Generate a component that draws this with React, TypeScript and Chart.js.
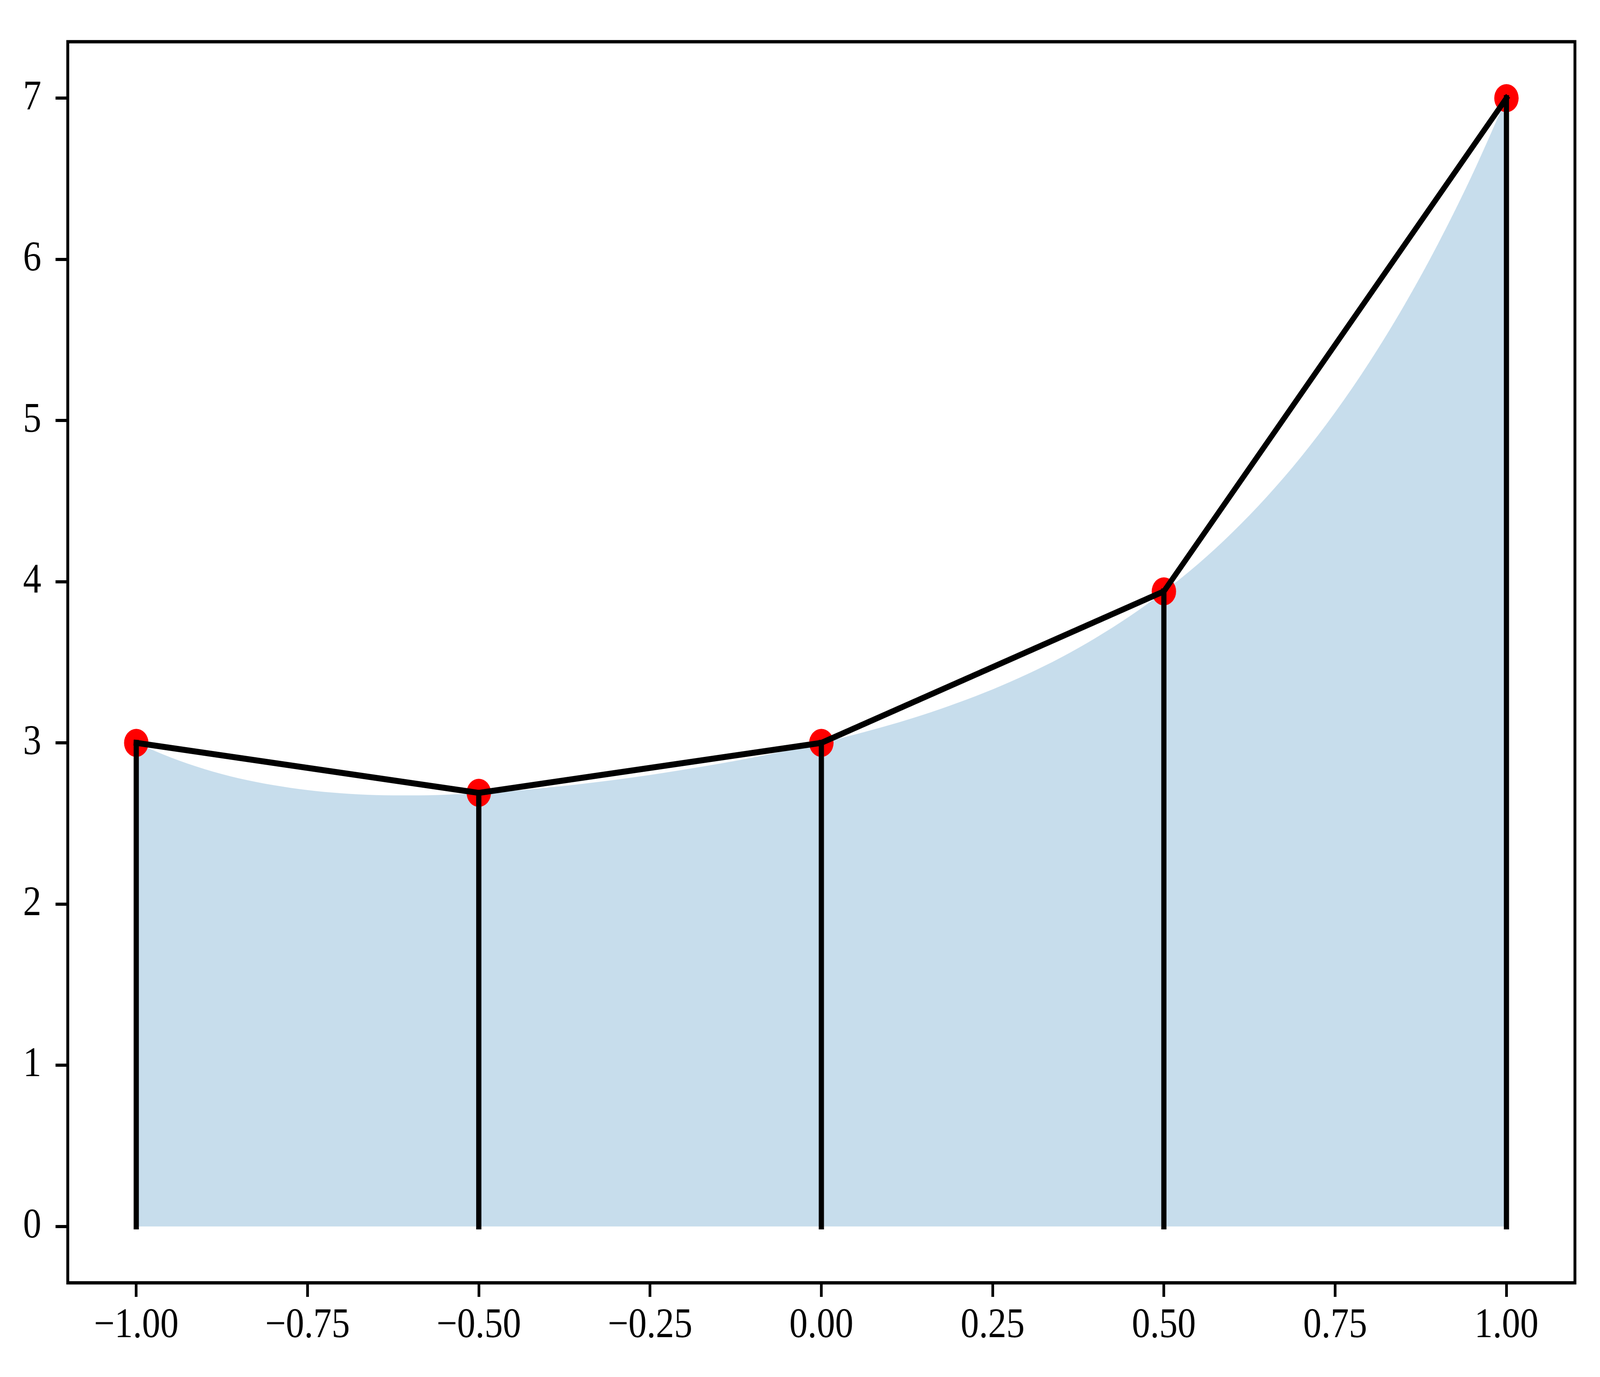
import React, { useEffect, useRef } from "react";
import { Chart, registerables } from "chart.js";

Chart.register(...registerables);

// Sample nodes (red points) and connecting polyline
const nodeX = [-1, -0.5, 0, 0.5, 1];
const nodeY = [3, 2.69, 3, 3.94, 7];

// Smooth curve under which the area is shaded
const curveX = [
  -1, -0.95, -0.9, -0.85, -0.8, -0.75, -0.7, -0.65, -0.6, -0.55, -0.5,
  -0.45, -0.4, -0.35, -0.3, -0.25, -0.2, -0.15, -0.1, -0.05, 0,
  0.05, 0.1, 0.15, 0.2, 0.25, 0.3, 0.35, 0.4, 0.45, 0.5,
  0.55, 0.6, 0.65, 0.7, 0.75, 0.8, 0.85, 0.9, 0.95, 1,
];
const curveY = [
  3.0, 2.91, 2.837, 2.78, 2.738, 2.707, 2.687, 2.676, 2.674, 2.678, 2.688,
  2.702, 2.722, 2.745, 2.771, 2.801, 2.834, 2.87, 2.909, 2.952, 3.0,
  3.053, 3.111, 3.176, 3.25, 3.332, 3.425, 3.53, 3.65, 3.785, 3.938,
  4.11, 4.306, 4.526, 4.773, 5.051, 5.362, 5.709, 6.095, 6.524, 7.0,
];

const xTicks = [-1, -0.75, -0.5, -0.25, 0, 0.25, 0.5, 0.75, 1];
const xTickLabels = ["\u22121.00", "\u22120.75", "\u22120.50", "\u22120.25", "0.00", "0.25", "0.50", "0.75", "1.00"];
const yTicks = [0, 1, 2, 3, 4, 5, 6, 7];
const yTickLabels = ["0", "1", "2", "3", "4", "5", "6", "7"];

const X_MIN = -1.1;
const X_MAX = 1.1;
const Y_MIN = -0.35;
const Y_MAX = 7.35;

const REF_W = 4724;
const REF_H = 3524;

export default function App() {
  const ref = useRef<HTMLCanvasElement | null>(null);
  const W = typeof window !== "undefined" ? window.innerWidth : REF_W;
  const H = typeof window !== "undefined" ? window.innerHeight : REF_H;
  const sx = W / REF_W;
  const sy = H / REF_H;

  useEffect(() => {
    if (!ref.current) return;
    const lw = 15.4;
    const FONT = { family: "'Liberation Serif', 'DejaVu Serif', serif", size: 108 };

    const frame = {
      id: "frame",
      afterDatasetsDraw(chart: any) {
        const { ctx, chartArea } = chart;
        ctx.save();
        ctx.strokeStyle = "#000";
        ctx.lineWidth = 8.5;
        ctx.lineJoin = "miter";
        ctx.strokeRect(chartArea.left, chartArea.top, chartArea.right - chartArea.left, chartArea.bottom - chartArea.top);
        ctx.restore();
      },
    };

    const datasets: any[] = [];
    datasets.push({
      type: "line",
      data: curveX.map((x, i) => ({ x, y: curveY[i] })),
      fill: "origin",
      backgroundColor: "rgba(31,119,180,0.25)",
      borderColor: "rgba(0,0,0,0)",
      borderWidth: 0,
      pointRadius: 0,
      cubicInterpolationMode: "monotone",
      order: 10,
    });
    datasets.push({
      type: "scatter",
      data: nodeX.map((x, i) => ({ x, y: nodeY[i] })),
      pointRadius: 36,
      pointHoverRadius: 36,
      backgroundColor: "#ff0000",
      borderColor: "#ff0000",
      borderWidth: 0,
      showLine: false,
      order: 9,
    });
    nodeX.forEach((x, i) => {
      datasets.push({
        type: "line",
        data: [
          { x, y: 0 },
          { x, y: nodeY[i] },
        ],
        borderColor: "#000",
        borderWidth: lw,
        borderCapStyle: "square",
        pointRadius: 0,
        fill: false,
        tension: 0,
        order: 5,
      });
    });
    datasets.push({
      type: "line",
      data: nodeX.map((x, i) => ({ x, y: nodeY[i] })),
      borderColor: "#000",
      borderWidth: lw,
      borderCapStyle: "square",
      borderJoinStyle: "round",
      pointRadius: 0,
      fill: false,
      tension: 0,
      order: 1,
    });

    const gridOpts = {
      drawOnChartArea: false,
      drawTicks: true,
      tickLength: 36,
      tickWidth: 8,
      lineWidth: 8,
      tickColor: "#000",
      color: "#000",
    };

    const chart = new Chart(ref.current, {
      type: "scatter",
      data: { datasets },
      plugins: [frame],
      options: {
        animation: false,
        responsive: false,
        devicePixelRatio: 1,
        events: [],
        layout: { padding: { top: 74, right: 74, left: 0, bottom: 0 } },
        plugins: { legend: { display: false }, tooltip: { enabled: false } },
        scales: {
          x: {
            type: "linear",
            min: X_MIN,
            max: X_MAX,
            afterBuildTicks: (sc: any) => {
              sc.ticks = xTicks.map((v) => ({ value: v }));
            },
            afterFit: (sc: any) => {
              sc.height = 241;
            },
            ticks: {
              autoSkip: false,
              maxRotation: 0,
              minRotation: 0,
              padding: 10,
              color: "#000",
              font: FONT,
              callback: (v: any) => {
                const i = xTicks.findIndex((t) => Math.abs(t - Number(v)) < 1e-9);
                return i >= 0 ? xTickLabels[i] : "";
              },
            },
            grid: gridOpts,
            border: { display: false },
          },
          y: {
            type: "linear",
            min: Y_MIN,
            max: Y_MAX,
            afterBuildTicks: (sc: any) => {
              sc.ticks = yTicks.map((v) => ({ value: v }));
            },
            afterFit: (sc: any) => {
              sc.width = 200;
            },
            ticks: {
              autoSkip: false,
              padding: 42,
              color: "#000",
              font: FONT,
              callback: (v: any) => {
                const i = yTicks.findIndex((t) => Math.abs(t - Number(v)) < 1e-9);
                return i >= 0 ? yTickLabels[i] : "";
              },
            },
            grid: gridOpts,
            border: { display: false },
          },
        },
      } as any,
    });
    return () => chart.destroy();
  }, []);

  return (
    <div style={{ position: "fixed", left: 0, top: 0, width: W, height: H, background: "#fff", overflow: "hidden" }}>
      <div
        style={{
          position: "absolute",
          left: 0,
          top: 0,
          width: REF_W,
          height: REF_H,
          transformOrigin: "0 0",
          transform: `scale(${sx}, ${sy})`,
        }}
      >
        <canvas ref={ref} width={REF_W} height={REF_H} style={{ display: "block", width: REF_W, height: REF_H }} />
      </div>
    </div>
  );
}
